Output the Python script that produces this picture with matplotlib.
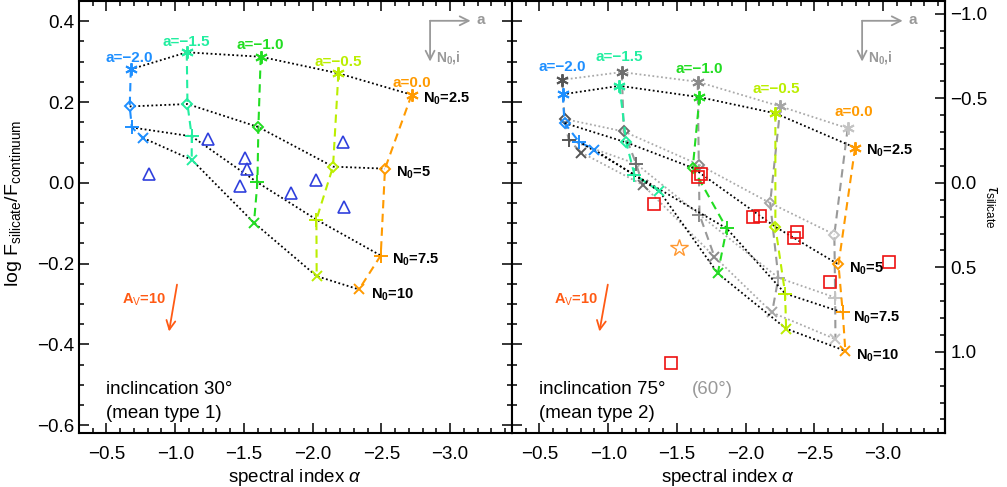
import matplotlib
matplotlib.use('Agg')
import matplotlib.pyplot as plt
from matplotlib.ticker import MultipleLocator, FuncFormatter
import numpy as np

plt.rcParams['font.family'] = ['Liberation Sans', 'DejaVu Sans']
plt.rcParams['mathtext.fontset'] = 'custom'
plt.rcParams['mathtext.rm'] = 'Liberation Sans'
plt.rcParams['mathtext.it'] = 'Liberation Sans:italic'
plt.rcParams['mathtext.bf'] = 'Liberation Sans:bold'

# ---------------- data ----------------
alpha_labels = ['a=\u22122.0', 'a=\u22121.5', 'a=\u22121.0', 'a=\u22120.5', 'a=0.0']
n0_labels = [r'N$_{\bf 0}$=2.5', r'N$_{\bf 0}$=5', r'N$_{\bf 0}$=7.5', r'N$_{\bf 0}$=10']
alpha_colors = ['#1e8fff', '#22eea0', '#22dd22', '#bbee00', '#ff9a00']
gray_shades = ['#555555', '#6e6e6e', '#8a8a8a', '#a6a6a6', '#c4c4c4']

# inclination 30 deg models: rows N0 = 2.5, 5, 7.5, 10 ; cols a = -2.0 .. 0.0
alpha_i30 = [[-0.677, -1.084, -1.622, -2.187, -2.720],
             [-0.669, -1.089, -1.605, -2.148, -2.526],
             [-0.684, -1.120, -1.598, -2.027, -2.495],
             [-0.766, -1.120, -1.573, -2.029, -2.337]]
logf_i30 = [[0.281, 0.323, 0.312, 0.271, 0.218],
            [0.189, 0.195, 0.138, 0.040, 0.035],
            [0.137, 0.115, 0.001, -0.091, -0.180],
            [0.111, 0.057, -0.099, -0.231, -0.264]]

# inclination 75 deg models
alpha_i75 = [[-0.669, -1.082, -1.664, -2.216, -2.796],
             [-0.682, -1.131, -1.615, -2.216, -2.675],
             [-0.786, -1.191, -1.862, -2.287, -2.706],
             [-0.900, -1.373, -1.797, -2.294, -2.725]]
logf_i75 = [[0.219, 0.240, 0.212, 0.172, 0.087],
            [0.148, 0.100, 0.037, -0.109, -0.202],
            [0.102, 0.020, -0.113, -0.274, -0.321],
            [0.082, -0.021, -0.224, -0.361, -0.416]]

# inclination 60 deg models (grey)
alpha_i60 = [[-0.665, -1.099, -1.651, -2.253, -2.742],
             [-0.682, -1.113, -1.659, -2.178, -2.645],
             [-0.713, -1.203, -1.664, -2.238, -2.651],
             [-0.803, -1.251, -1.773, -2.192, -2.653]]
logf_i60 = [[0.255, 0.274, 0.250, 0.189, 0.135],
            [0.158, 0.127, 0.045, -0.050, -0.128],
            [0.106, 0.047, -0.079, -0.235, -0.284],
            [0.075, -0.005, -0.183, -0.321, -0.387]]

# type 1 objects (triangles)
type1_alpha = [-0.810, -1.242, -1.508, -1.525, -1.469, -1.845, -2.022, -2.221, -2.228]
type1_logf = [0.022, 0.109, 0.061, 0.034, -0.007, -0.025, 0.008, 0.100, -0.060]

# type 2 objects (squares)
type2_alpha = [-1.676, -1.656, -1.336, -2.051, -2.107, -2.374, -2.349, -3.045, -2.616, -1.458]
type2_logf = [0.022, 0.014, -0.052, -0.085, -0.083, -0.121, -0.136, -0.197, -0.246, -0.447]

# star object
star_alpha = [-1.518]
star_logf = [-0.161]

markers = [(6, 2, 0), 'D', '+', 'x']
msizes = [9, 5, 10, 7.5]

TAU_FACTOR = 2.39

# ---------------- figure ----------------
fig = plt.figure(figsize=(10.07, 4.87), dpi=100)
W, H = 1007.0, 487.0
bot = 1 - 433.3 / H
hgt = 432.3 / H
ax1 = fig.add_axes([79 / W, bot, 433 / W, hgt])
ax2 = fig.add_axes([512 / W, bot, 433 / W, hgt])

DOT = (0, (1, 1.4))
DASH = (0, (4, 2.6))


def draw_grid(ax, xs, ys, mcolors, dot_color, dash_colors, z):
    xs = np.asarray(xs)
    ys = np.asarray(ys)
    for j in range(xs.shape[1]):
        ax.plot(xs[:, j], ys[:, j], ls=DASH, color=dash_colors[j], lw=1.5, zorder=z)
    for i in range(xs.shape[0]):
        ax.plot(xs[i], ys[i], ls=DOT, color=dot_color, lw=1.3, zorder=z + 0.5)
    for i in range(xs.shape[0]):
        for j in range(xs.shape[1]):
            ax.plot(xs[i, j], ys[i, j], marker=markers[i], ms=msizes[i], mfc='none',
                    mec=mcolors[j], mew=1.4, ls='none', zorder=z + 1)


def fmt(v, p):
    return f'{round(v, 1) + 0.0:.1f}'.replace('-', '\u2212')


for ax in (ax1, ax2):
    ax.set_xlim(-0.3, -3.45)
    ax.set_ylim(-0.62, 0.45)
    ax.xaxis.set_major_locator(MultipleLocator(0.5))
    ax.xaxis.set_minor_locator(MultipleLocator(0.1))
    ax.yaxis.set_major_locator(MultipleLocator(0.2))
    ax.yaxis.set_minor_locator(MultipleLocator(0.05))
    ax.xaxis.set_major_formatter(FuncFormatter(fmt))
    ax.yaxis.set_major_formatter(FuncFormatter(fmt))
    ax.tick_params(which='both', direction='in', top=True, width=1.1, labelsize=13.5)
    ax.tick_params(which='major', length=7)
    ax.tick_params(which='minor', length=3.5)
    ax.tick_params(axis='x', pad=9)
    for s in ax.spines.values():
        s.set_linewidth(1.5)
    ax.set_xlabel(r'spectral index $\alpha$', fontsize=13.5, labelpad=3)

ax1.tick_params(right=True, which='both')
ax2.tick_params(right=False, labelleft=False, which='both')

# left panel
draw_grid(ax1, alpha_i30, logf_i30, alpha_colors, 'black', alpha_colors, 3)
ax1.plot(type1_alpha, type1_logf, ls='none', marker='^', ms=8, mfc='none', mec='#3040dd', mew=1.2, zorder=6)

# right panel: grey 60 deg first, colored 75 deg on top
draw_grid(ax2, alpha_i60, logf_i60, gray_shades, '#aaaaaa', ['#999999'] * 5, 2)
draw_grid(ax2, alpha_i75, logf_i75, alpha_colors, 'black', alpha_colors, 4)
ax2.plot(type2_alpha, type2_logf, ls='none', marker='s', ms=8, mfc='none', mec='#ee1111', mew=1.2, zorder=7)
ax2.plot(star_alpha, star_logf, ls='none', marker='*', ms=13, mfc='none', mec='#ff9933', mew=1.0, zorder=7)

# labels of the grids
a_lab_left = [(-0.669, 0.309), (-1.077, 0.348), (-1.619, 0.341), (-2.186, 0.299), (-2.720, 0.247)]
a_lab_right = [(-0.669, 0.287), (-1.078, 0.311), (-1.659, 0.282), (-2.224, 0.232), (-2.784, 0.176)]
n_lab_left = [(-2.804, 0.208), (-2.609, 0.024), (-2.580, -0.190), (-2.422, -0.278)]
n_lab_right = [(-2.876, 0.079), (-2.755, -0.212), (-2.784, -0.333), (-2.803, -0.429)]

for ax, alab, nlab in ((ax1, a_lab_left, n_lab_left), (ax2, a_lab_right, n_lab_right)):
    for j, (xx, yy) in enumerate(alab):
        ax.text(xx, yy, alpha_labels[j], color=alpha_colors[j], fontsize=11, fontweight='bold',
                ha='center', va='center', zorder=10)
    for i, (xx, yy) in enumerate(nlab):
        ax.text(xx, yy, n0_labels[i], color='black', fontsize=10.5, fontweight='bold',
                ha='left', va='center', zorder=10)

# direction indicator (grey arrows)
for ax, cx in ((ax1, -2.854), (ax2, -2.847)):
    ax.annotate('', xy=(cx - 0.295, 0.401), xytext=(cx, 0.401),
                arrowprops=dict(arrowstyle='->', color='#999999', lw=1.3, mutation_scale=16,
                                shrinkA=0, shrinkB=0))
    ax.annotate('', xy=(cx, 0.300), xytext=(cx, 0.401),
                arrowprops=dict(arrowstyle='->', color='#999999', lw=1.3, mutation_scale=16,
                                shrinkA=0, shrinkB=0))
    ax.text(cx - 0.335, 0.403, 'a', color='#999999', fontsize=11, fontweight='bold', ha='left', va='center')
    ax.text(cx - 0.045, 0.309, r'N$_{\bf 0}$,i', color='#999999', fontsize=10, fontweight='bold',
            ha='left', va='center')

# A_V extinction arrows
for ax, (sx, ex, tx) in ((ax1, (-1.013, -0.955, -0.931)), (ax2, (-0.997, -0.936, -0.924))):
    ax.annotate('', xy=(ex, -0.368), xytext=(sx, -0.252),
                arrowprops=dict(arrowstyle='->', color='#ff5a14', lw=1.3, mutation_scale=16,
                                shrinkA=0, shrinkB=0))
    ax.text(tx, -0.290, r'A$_{\rm V}$=10', color='#ff5a14', fontsize=10.5, fontweight='bold',
            ha='right', va='center')

# panel texts
ax1.text(0.062, 0.102, 'inclincation 30\u00b0', transform=ax1.transAxes, fontsize=13.5, va='center')
ax1.text(0.062, 0.046, '(mean type 1)', transform=ax1.transAxes, fontsize=13.5, va='center')
ax2.text(0.063, 0.102, 'inclincation 75\u00b0', transform=ax2.transAxes, fontsize=13.5, va='center')
ax2.text(0.416, 0.102, '(60\u00b0)', transform=ax2.transAxes, fontsize=13.5, va='center', color='#999999')
ax2.text(0.063, 0.046, '(mean type 2)', transform=ax2.transAxes, fontsize=13.5, va='center')

# y label
fig.text(13.5 / W, 1 - 203.5 / H, r'log F$_{\rm silicate}$/F$_{\rm continuum}$', rotation=90,
         fontsize=14, ha='center', va='center')

# secondary tau axis
sec = ax2.secondary_yaxis('right', functions=(lambda y: -TAU_FACTOR * y, lambda t: -t / TAU_FACTOR))
sec.yaxis.set_major_locator(MultipleLocator(0.5))
sec.yaxis.set_minor_locator(MultipleLocator(0.1))
sec.yaxis.set_major_formatter(FuncFormatter(fmt))
sec.tick_params(which='both', direction='in', width=1.1, labelsize=13.5, pad=4)
sec.tick_params(which='major', length=7)
sec.tick_params(which='minor', length=3.5)
sec.spines['right'].set_linewidth(1.5)
fig.text(991 / W, 1 - 207 / H, r'$\tau_{\rm silicate}$', rotation=-90, fontsize=12,
         ha='center', va='center')

fig.savefig('out.png', dpi=100)
